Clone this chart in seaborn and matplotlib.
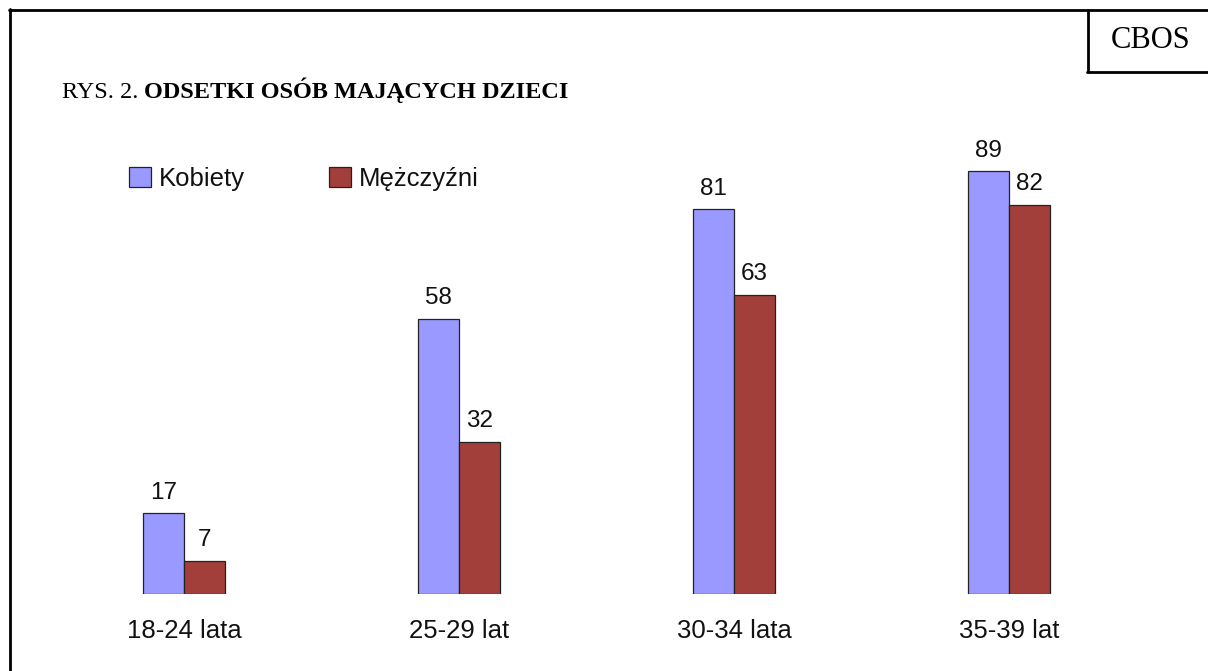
import matplotlib
matplotlib.use("Agg")
import matplotlib.pyplot as plt
import pandas as pd
import seaborn as sns
from matplotlib.lines import Line2D

# data
grupy = ["18-24 lata", "25-29 lat", "30-34 lata", "35-39 lat"]
kobiety = [17, 58, 81, 89]
mezczyzni = [7, 32, 63, 82]
serie = ["Kobiety", "Mężczyźni"]
kolory = ["#9999FF", "#A23F3B"]

W, H = 1208, 671


def fx(px):
    return px / W


def fy(py):
    return 1 - py / H


df = pd.DataFrame({
    "grupa": grupy * 2,
    "odsetek": kobiety + mezczyzni,
    "plec": [serie[0]] * len(grupy) + [serie[1]] * len(grupy),
})

sns.set_theme(style="white")
plt.rcParams["font.family"] = ["Liberation Sans", "DejaVu Sans"]
plt.rcParams["text.color"] = "black"
serif = ["Liberation Serif", "DejaVu Serif"]

fig = plt.figure(figsize=(W / 100, H / 100), dpi=100)
# axes placed so the baseline and the scale match the reference
ax = fig.add_axes([fx(46.5), fy(594), fx(1100), 475 / H])

sns.barplot(data=df, x="grupa", y="odsetek", hue="plec", hue_order=serie,
            palette=kolory, width=0.3, gap=0, edgecolor="#222222",
            linewidth=0.9, saturation=1, ax=ax)

for cont in ax.containers:
    ax.bar_label(cont, fmt="%d", padding=7, fontsize=17.5, color="#111111")

ax.set_xlim(-0.5, 3.5)
ax.set_ylim(0, 100)
ax.set_xlabel("")
ax.set_ylabel("")
ax.set_yticks([])
ax.tick_params(axis="x", length=0, pad=18, labelsize=18.5, labelcolor="#111111")
for s in ax.spines.values():
    s.set_visible(False)

leg = ax.legend(loc="center left", bbox_to_anchor=(fx(129), fy(179)),
                bbox_transform=fig.transFigure, ncol=2, frameon=False,
                fontsize=18.5, handlelength=0.85, handleheight=0.85,
                handletextpad=0.3, columnspacing=3.3, borderaxespad=0,
                borderpad=0)
for t in leg.get_texts():
    t.set_color("#111111")

# frame of the page and the CBOS box
lw = 2.0
fig.add_artist(Line2D([fx(10), fx(10)], [fy(9), fy(H + 5)], color="black",
                      lw=lw, transform=fig.transFigure))
fig.add_artist(Line2D([fx(9), fx(W + 5)], [fy(10), fy(10)], color="black",
                      lw=lw, transform=fig.transFigure))
fig.add_artist(Line2D([fx(1088), fx(1088)], [fy(10), fy(72)], color="black",
                      lw=lw, transform=fig.transFigure))
fig.add_artist(Line2D([fx(1087), fx(W + 5)], [fy(72), fy(72)], color="black",
                      lw=lw, transform=fig.transFigure))

fig.text(fx(1151), fy(41), "CBOS", ha="center", va="center", fontsize=22,
         family=serif, color="black")

t1 = fig.text(fx(62), fy(98), "RYS. 2. ", ha="left", va="baseline",
              fontsize=17.5, family=serif, color="black")
fig.canvas.draw()
bb = t1.get_window_extent()
fig.text(bb.x1 / W, fy(98), "ODSETKI OSÓB MAJĄCYCH DZIECI", ha="left",
         va="baseline", fontsize=17.5, fontweight="bold", family=serif,
         color="black")

fig.savefig("out.png", dpi=100)
